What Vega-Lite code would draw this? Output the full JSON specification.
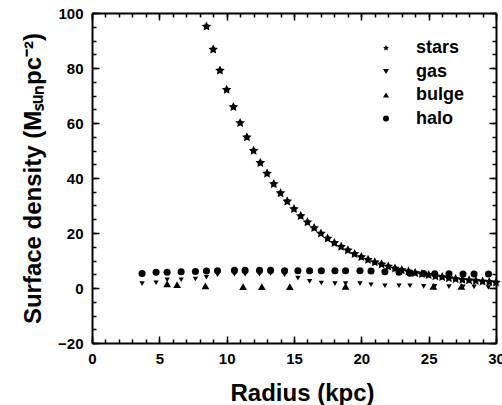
{
  "$schema": "https://vega.github.io/schema/vega-lite/v6.json",
  "width": 404,
  "height": 330,
  "autosize": {"type": "none"},
  "padding": {"left": 92, "top": 13, "right": 6, "bottom": 62},
  "background": "white",
  "data": {"values": [
    {"r": 8.5, "s": 95.1, "c": "stars"}, {"r": 9.0, "s": 86.7, "c": "stars"}, {"r": 9.5, "s": 79.1, "c": "stars"},
    {"r": 10.0, "s": 72.1, "c": "stars"}, {"r": 10.5, "s": 65.8, "c": "stars"}, {"r": 11.0, "s": 60.0, "c": "stars"},
    {"r": 11.5, "s": 54.8, "c": "stars"}, {"r": 12.0, "s": 49.9, "c": "stars"}, {"r": 12.5, "s": 45.5, "c": "stars"},
    {"r": 13.0, "s": 41.6, "c": "stars"}, {"r": 13.5, "s": 37.8, "c": "stars"}, {"r": 14.0, "s": 34.5, "c": "stars"},
    {"r": 14.5, "s": 31.5, "c": "stars"}, {"r": 15.0, "s": 28.7, "c": "stars"}, {"r": 15.5, "s": 26.2, "c": "stars"},
    {"r": 16.0, "s": 23.9, "c": "stars"}, {"r": 16.5, "s": 21.8, "c": "stars"}, {"r": 17.0, "s": 19.8, "c": "stars"},
    {"r": 17.5, "s": 18.0, "c": "stars"}, {"r": 18.0, "s": 16.4, "c": "stars"}, {"r": 18.5, "s": 15.0, "c": "stars"},
    {"r": 19.0, "s": 13.7, "c": "stars"}, {"r": 19.5, "s": 12.4, "c": "stars"}, {"r": 20.0, "s": 11.3, "c": "stars"},
    {"r": 20.5, "s": 10.3, "c": "stars"}, {"r": 21.0, "s": 9.4, "c": "stars"}, {"r": 21.5, "s": 8.6, "c": "stars"},
    {"r": 22.0, "s": 7.8, "c": "stars"}, {"r": 22.5, "s": 7.1, "c": "stars"}, {"r": 23.0, "s": 6.5, "c": "stars"},
    {"r": 23.5, "s": 6.0, "c": "stars"}, {"r": 24.0, "s": 5.5, "c": "stars"}, {"r": 24.5, "s": 5.1, "c": "stars"},
    {"r": 25.0, "s": 4.7, "c": "stars"}, {"r": 25.5, "s": 4.3, "c": "stars"}, {"r": 26.0, "s": 4.0, "c": "stars"},
    {"r": 26.5, "s": 3.6, "c": "stars"}, {"r": 27.0, "s": 3.3, "c": "stars"}, {"r": 27.5, "s": 3.0, "c": "stars"},
    {"r": 28.0, "s": 2.8, "c": "stars"}, {"r": 28.5, "s": 2.6, "c": "stars"}, {"r": 29.0, "s": 2.4, "c": "stars"},
    {"r": 29.5, "s": 2.2, "c": "stars"}, {"r": 30.0, "s": 2.0, "c": "stars"},

    {"r": 3.72, "s": 1.6, "c": "gas"}, {"r": 4.76, "s": 1.9, "c": "gas"}, {"r": 5.58, "s": 3.0, "c": "gas"},
    {"r": 6.62, "s": 3.0, "c": "gas"}, {"r": 7.68, "s": 3.3, "c": "gas"}, {"r": 8.50, "s": 3.9, "c": "gas"},
    {"r": 9.32, "s": 4.8, "c": "gas"}, {"r": 10.58, "s": 5.0, "c": "gas"}, {"r": 11.37, "s": 5.0, "c": "gas"},
    {"r": 12.44, "s": 5.0, "c": "gas"}, {"r": 13.26, "s": 5.3, "c": "gas"}, {"r": 14.30, "s": 4.8, "c": "gas"},
    {"r": 15.29, "s": 3.6, "c": "gas"}, {"r": 16.16, "s": 2.4, "c": "gas"}, {"r": 17.03, "s": 1.8, "c": "gas"},
    {"r": 18.04, "s": 1.6, "c": "gas"}, {"r": 18.83, "s": 1.6, "c": "gas"}, {"r": 19.90, "s": 1.6, "c": "gas"},
    {"r": 20.72, "s": 1.2, "c": "gas"}, {"r": 21.75, "s": 0.8, "c": "gas"}, {"r": 22.80, "s": 0.8, "c": "gas"},
    {"r": 23.61, "s": 0.8, "c": "gas"}, {"r": 24.63, "s": 0.6, "c": "gas"}, {"r": 25.45, "s": 0.6, "c": "gas"},
    {"r": 26.51, "s": 0.5, "c": "gas"}, {"r": 27.55, "s": 0.4, "c": "gas"}, {"r": 28.37, "s": 0.4, "c": "gas"},
    {"r": 29.44, "s": 0.2, "c": "gas"},

    {"r": 5.58, "s": 1.5, "c": "bulge"}, {"r": 6.32, "s": 1.2, "c": "bulge"}, {"r": 8.42, "s": 0.8, "c": "bulge"},
    {"r": 11.22, "s": 0.5, "c": "bulge"}, {"r": 12.61, "s": 0.5, "c": "bulge"}, {"r": 14.69, "s": 0.5, "c": "bulge"},
    {"r": 18.83, "s": 0.6, "c": "bulge"}, {"r": 25.35, "s": 0.6, "c": "bulge"}, {"r": 27.43, "s": 0.6, "c": "bulge"},

    {"r": 3.72, "s": 5.3, "c": "halo"}, {"r": 4.76, "s": 5.7, "c": "halo"}, {"r": 5.58, "s": 5.7, "c": "halo"},
    {"r": 6.62, "s": 5.9, "c": "halo"}, {"r": 7.68, "s": 6.0, "c": "halo"}, {"r": 8.50, "s": 6.2, "c": "halo"},
    {"r": 9.32, "s": 6.3, "c": "halo"}, {"r": 10.58, "s": 6.4, "c": "halo"}, {"r": 11.37, "s": 6.4, "c": "halo"},
    {"r": 12.44, "s": 6.4, "c": "halo"}, {"r": 13.26, "s": 6.4, "c": "halo"}, {"r": 14.30, "s": 6.3, "c": "halo"},
    {"r": 15.29, "s": 6.3, "c": "halo"}, {"r": 16.16, "s": 6.3, "c": "halo"}, {"r": 17.03, "s": 6.3, "c": "halo"},
    {"r": 18.04, "s": 6.3, "c": "halo"}, {"r": 18.83, "s": 6.3, "c": "halo"}, {"r": 19.90, "s": 6.3, "c": "halo"},
    {"r": 20.72, "s": 6.2, "c": "halo"}, {"r": 21.75, "s": 5.9, "c": "halo"}, {"r": 22.80, "s": 5.7, "c": "halo"},
    {"r": 23.61, "s": 5.4, "c": "halo"}, {"r": 24.63, "s": 5.3, "c": "halo"}, {"r": 25.45, "s": 5.2, "c": "halo"},
    {"r": 26.51, "s": 5.2, "c": "halo"}, {"r": 27.55, "s": 5.1, "c": "halo"}, {"r": 28.37, "s": 5.1, "c": "halo"},
    {"r": 29.44, "s": 5.1, "c": "halo"}
  ]},
  "encoding": {
    "shape": {
      "field": "c", "type": "nominal",
      "scale": {
        "domain": ["stars", "gas", "bulge", "halo"],
        "range": ["M0,-1L0.294,-0.405L0.951,-0.309L0.476,0.155L0.588,0.809L0,0.5L-0.588,0.809L-0.476,0.155L-0.951,-0.309L-0.294,-0.405Z", "triangle-down", "triangle-up", "circle"]
      },
      "legend": {
        "title": null, "orient": "none", "legendX": 285, "legendY": 26,
        "symbolSize": 36, "labelOffset": 21, "rowPadding": 5.5, "padding": 0
      }
    }
  },
  "layer": [
    {
      "transform": [{"filter": "datum.c == 'stars'"}],
      "mark": {"type": "point", "filled": true, "color": "black", "opacity": 1, "size": 100},
      "encoding": {
        "x": {"field": "r", "type": "quantitative", "scale": {"domain": [0, 30], "nice": false, "zero": false},
          "axis": {"orient": "bottom", "values": [0, 5, 10, 15, 20, 25, 30], "tickSize": -7, "labelPadding": 15, "title": "Radius (kpc)", "titlePadding": 15, "titleFontSize": 24, "titleX": 210, "domain": true, "ticks": true, "domainColor": "black", "domainWidth": 2, "tickColor": "black", "tickWidth": 1.5}},
        "y": {"field": "s", "type": "quantitative", "scale": {"domain": [-20, 100], "nice": false, "zero": false},
          "axis": {"orient": "left", "values": [-20, 0, 20, 40, 60, 80, 100], "tickSize": -7, "labelPadding": 16, "title": "Surface density (Mₛᵤₙpc⁻²)", "titlePadding": 12, "titleFontSize": 24, "domain": true, "ticks": true, "domainColor": "black", "domainWidth": 2, "tickColor": "black", "tickWidth": 1.5}}
      }
    },
    {
      "transform": [{"filter": "datum.c == 'gas'"}],
      "mark": {"type": "point", "filled": true, "color": "black", "opacity": 1, "size": 28},
      "encoding": {
        "x": {"field": "r", "type": "quantitative", "axis": {"orient": "top", "values": [0, 5, 10, 15, 20, 25, 30], "tickSize": -7, "labels": false, "title": null, "domain": true, "ticks": true, "domainColor": "black", "domainWidth": 2, "tickColor": "black", "tickWidth": 1.5}},
        "y": {"field": "s", "type": "quantitative", "axis": {"orient": "right", "values": [-20, 0, 20, 40, 60, 80, 100], "tickSize": -7, "labels": false, "title": null, "domain": true, "ticks": true, "domainColor": "black", "domainWidth": 2, "tickColor": "black", "tickWidth": 1.5}}
      }
    },
    {
      "transform": [{"filter": "datum.c == 'bulge'"}],
      "mark": {"type": "point", "filled": true, "color": "black", "opacity": 1, "size": 60},
      "encoding": {
        "x": {"field": "r", "type": "quantitative", "axis": {"orient": "bottom", "values": [0,1,2,3,4,5,6,7,8,9,10,11,12,13,14,15,16,17,18,19,20,21,22,23,24,25,26,27,28,29,30], "tickSize": -4, "labels": false, "domain": false, "ticks": true, "title": null, "tickColor": "black", "tickWidth": 1.5}},
        "y": {"field": "s", "type": "quantitative", "axis": {"orient": "left", "values": [-20,-15,-10,-5,0,5,10,15,20,25,30,35,40,45,50,55,60,65,70,75,80,85,90,95,100], "tickSize": -4, "labels": false, "domain": false, "ticks": true, "title": null, "tickColor": "black", "tickWidth": 1.5}}
      }
    },
    {
      "transform": [{"filter": "datum.c == 'halo'"}],
      "mark": {"type": "point", "filled": true, "color": "black", "opacity": 1, "size": 50},
      "encoding": {
        "x": {"field": "r", "type": "quantitative", "axis": {"orient": "top", "values": [0,1,2,3,4,5,6,7,8,9,10,11,12,13,14,15,16,17,18,19,20,21,22,23,24,25,26,27,28,29,30], "tickSize": -4, "labels": false, "domain": false, "ticks": true, "title": null, "tickColor": "black", "tickWidth": 1.5}},
        "y": {"field": "s", "type": "quantitative", "axis": {"orient": "right", "values": [-20,-15,-10,-5,0,5,10,15,20,25,30,35,40,45,50,55,60,65,70,75,80,85,90,95,100], "tickSize": -4, "labels": false, "domain": false, "ticks": true, "title": null, "tickColor": "black", "tickWidth": 1.5}}
      }
    }
  ],
  "resolve": {"axis": {"x": "independent", "y": "independent"}},
  "config": {
    "view": {"stroke": null},
    "axis": {
      "grid": false,
      "labelFont": "Liberation Sans", "labelFontWeight": "bold", "labelFontSize": 15, "labelColor": "black",
      "titleFont": "Liberation Sans", "titleFontWeight": "bold", "titleFontSize": 22, "titleColor": "black",
      "labelOverlap": false, "labelBound": false, "labelFlush": false
    },
    "legend": {
      "labelFont": "Liberation Sans", "labelFontWeight": "bold", "labelFontSize": 18, "labelColor": "black",
      "symbolFillColor": "black", "symbolStrokeColor": "black", "symbolStrokeWidth": 0
    }
  }
}
